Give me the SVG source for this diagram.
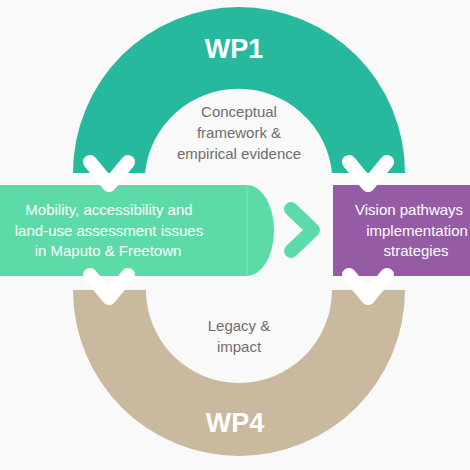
<svg xmlns="http://www.w3.org/2000/svg" width="470" height="470" viewBox="0 0 470 470">
<style>
.lbl{font-family:"Liberation Sans",Arial,sans-serif;font-size:15px;text-anchor:middle}
.gray{fill:#6e6e6e}
.white{fill:#ffffff}
.wp{font-family:"Liberation Sans",Arial,sans-serif;font-size:27px;font-weight:bold;fill:#ffffff;text-anchor:middle}
.chev{fill:none;stroke:#ffffff;stroke-width:14;stroke-linecap:round;stroke-linejoin:round}
</style>
<rect width="470" height="470" fill="#f9f9f9"/>
<g id="wp1">
<path d="M73 173 A166 166 0 0 1 405 173 L332 173 A94 94 0 0 0 145 173 Z" fill="#27b99e"/>
<text class="wp" x="234" y="58">WP1</text>
<text class="lbl gray" x="239" y="117">Conceptual</text>
<text class="lbl gray" x="239" y="138">framework &amp;</text>
<text class="lbl gray" x="239" y="159">empirical evidence</text>
</g>
<g id="wp4">
<path d="M73 290 A166 166 0 0 0 405 290 L332 290 A93 93 0 0 1 146 290 Z" fill="#c9b99e"/>
<text class="wp" x="235" y="432">WP4</text>
<text class="lbl gray" x="239" y="331">Legacy &amp;</text>
<text class="lbl gray" x="239" y="352">impact</text>
</g>
<g id="mobility">
<path d="M0 185 L247 185 A27 45.5 0 0 1 247 276 L0 276 Z" fill="#5cdba8"/>
<line x1="247" y1="185" x2="247" y2="276" stroke="#7fe4bd" stroke-width="1"/>
<text class="lbl white" x="109" y="215">Mobility, accessibility and</text>
<text class="lbl white" x="109" y="236">land-use assessment issues</text>
<text class="lbl white" x="108" y="256">in Maputo &amp; Freetown</text>
</g>
<g id="vision">
<rect x="333" y="185" width="140" height="91" fill="#955ba5"/>
<text class="lbl white" x="355" y="215" style="text-anchor:start">Vision pathways</text>
<text class="lbl white" x="417" y="236">implementation</text>
<text class="lbl white" x="416" y="256">strategies</text>
</g>
<g id="connectors">
<path d="M291 209 L313 230 L291 251" fill="none" stroke="#5cdba8" stroke-width="14" stroke-linecap="round" stroke-linejoin="round"/>
<path class="chev" d="M90 162 L109 185 L128 162"/>
<path class="chev" d="M349 162 L368 185 L387 162"/>
<path class="chev" d="M90 275 L109 298 L128 275"/>
<path class="chev" d="M349 275 L368 298 L387 275"/>
</g>
</svg>
